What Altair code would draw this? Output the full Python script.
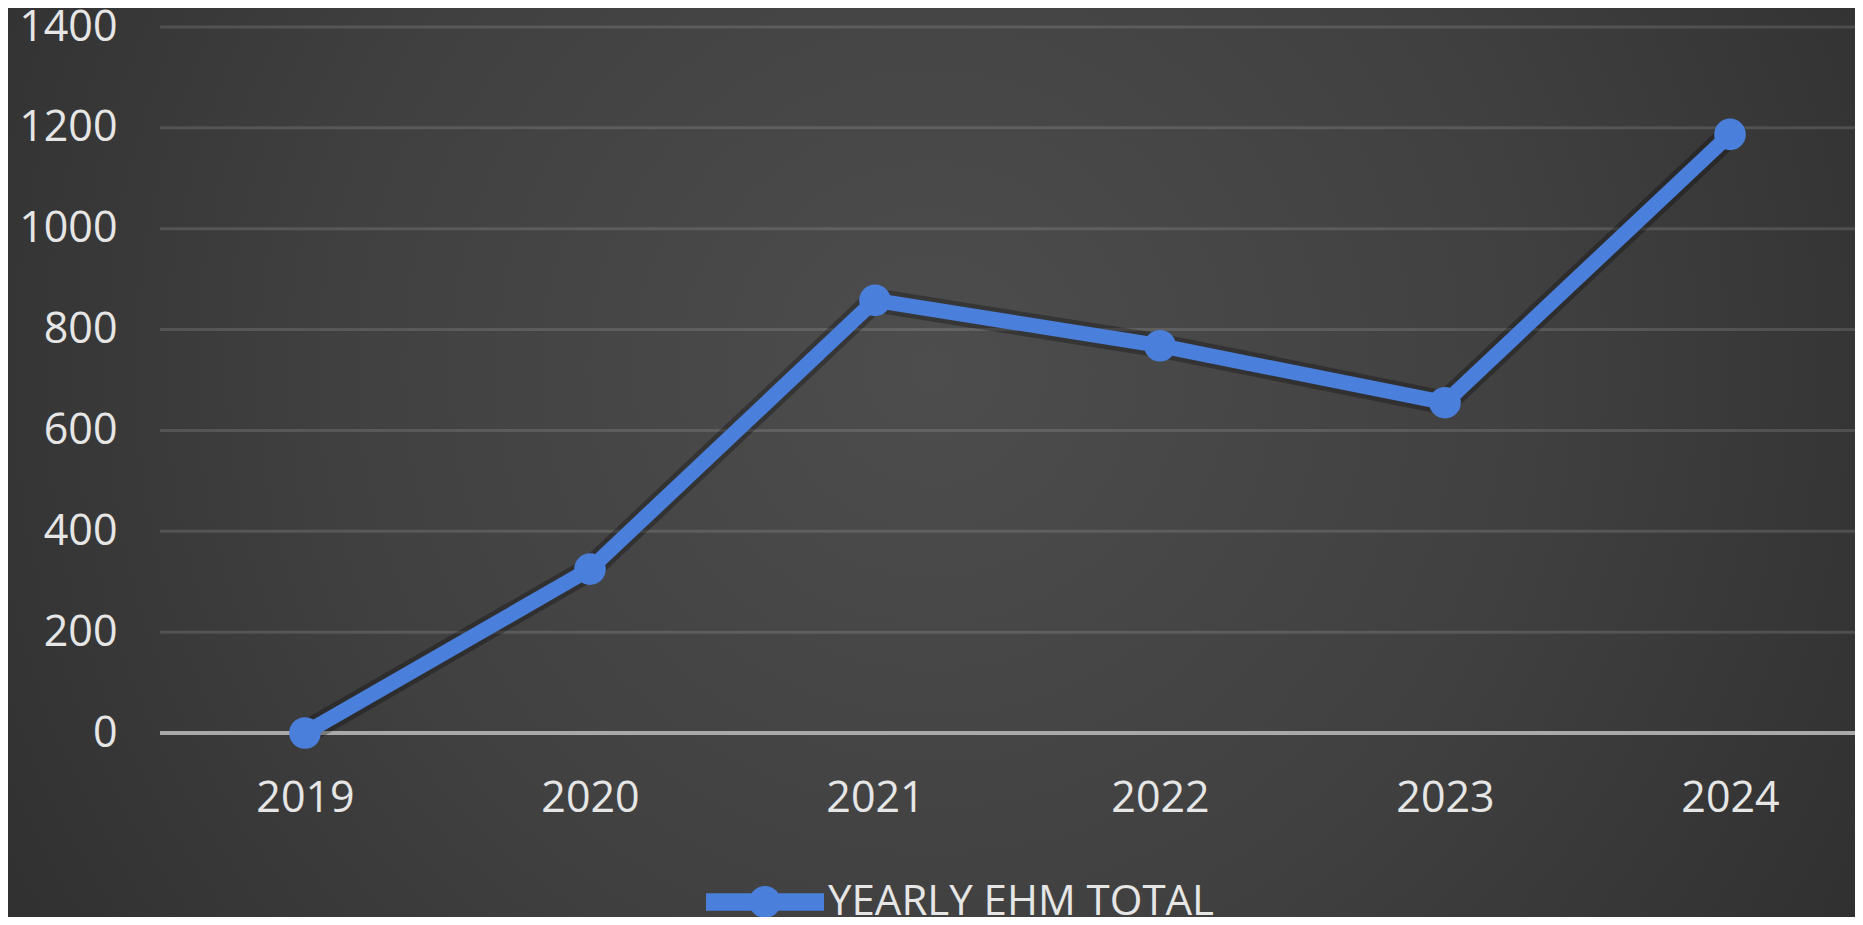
import altair as alt
import pandas as pd

years = ["2019", "2020", "2021", "2022", "2023", "2024"]
totals = [0, 325, 858, 768, 655, 1187]
series_name = "YEARLY EHM TOTAL"
y_ticks = [0, 200, 400, 600, 800, 1000, 1200, 1400]
grid_ticks = [200, 400, 600, 800, 1000, 1200, 1400]
zero_line = [0]

W, H = 1695, 706
PAD = {"left": 152, "top": 19, "right": 0, "bottom": 184}

df = pd.DataFrame({"year": years, "total": totals, "series": [series_name] * len(years)})
grid_df = pd.DataFrame({"v": grid_ticks})
zero_df = pd.DataFrame({"v": zero_line})
bg_df = pd.DataFrame({"k": [0]})

LINE_COLOR = "#4a7fdc"
FONT = "Open Sans"
TXT = "#e6e6e6"

x_enc = alt.X("year:N", sort=years,
              scale=alt.Scale(type="point", padding=0.4737, align=0.537),
              axis=alt.Axis(title=None, labelAngle=0, ticks=False, grid=False,
                            domain=False, zindex=1,
                            labelPadding=44, labelFont=FONT, labelFontSize=43,
                            labelColor=TXT))
y_scale = alt.Scale(domain=[0, 1400], nice=False)
y_enc = alt.Y("total:Q", scale=y_scale,
              axis=alt.Axis(title=None, values=y_ticks, format="d", ticks=False, grid=False,
                            domain=False, zindex=1, labelPadding=43, labelFont=FONT,
                            labelFontSize=43, labelColor=TXT, labelBaseline="middle"))

bg = alt.Chart(bg_df).mark_rect(
    fill={"gradient": "radial",
          "x1": 0.5, "y1": 0.45, "r1": 0.0,
          "x2": 0.5, "y2": 0.45, "r2": 0.72,
          "stops": [{"offset": 0.0, "color": "#4d4d4d"},
                    {"offset": 0.45, "color": "#404040"},
                    {"offset": 1.0, "color": "#282828"}]}
).encode(
    x=alt.value(-PAD["left"]), x2=alt.value(W + PAD["right"]),
    y=alt.value(-PAD["top"]), y2=alt.value(H + PAD["bottom"])
)

grid = alt.Chart(grid_df).mark_rule(color="#ffffff", strokeOpacity=0.13, strokeWidth=3).encode(
    y=alt.Y("v:Q", scale=y_scale),
    x=alt.value(0), x2=alt.value(W)
)

zero = alt.Chart(zero_df).mark_rule(color="#a9a9a9", strokeWidth=4).encode(
    y=alt.Y("v:Q", scale=y_scale),
    x=alt.value(0), x2=alt.value(W)
)

shadow = alt.Chart(df).mark_line(color="#000000", opacity=0.28, strokeWidth=24,
                                 strokeJoin="round", strokeCap="round").encode(
    x=x_enc, y=y_enc)

line = alt.Chart(df).mark_line(color=LINE_COLOR, strokeWidth=15,
                               strokeJoin="round").encode(x=x_enc, y=y_enc)

legend_path = ("M-1,-0.15L1,-0.15L1,0.15L-1,0.15Z "
               "M0.27,0A0.27,0.27,0,1,1,-0.27,0A0.27,0.27,0,1,1,0.27,0Z")

points = alt.Chart(df).mark_circle(size=1000, opacity=1).encode(
    x=x_enc, y=y_enc,
    color=alt.Color("series:N", scale=alt.Scale(range=[LINE_COLOR]),
                    legend=alt.Legend(title=None, orient="none", legendX=546, legendY=816,
                                      symbolType=legend_path, symbolSize=13924,
                                      symbolStrokeWidth=0, symbolOpacity=1,
                                      labelFont=FONT, labelFontSize=42, labelColor=TXT,
                                      labelOffset=4, labelLimit=0, padding=0))
)

chart = alt.layer(bg, grid, zero, shadow, line, points).properties(
    width=W, height=H, padding=PAD,
    autosize=alt.AutoSizeParams(type="none"),
    background="#2c2c2c"
).configure_view(stroke=None)

chart.save("out.html", embed_options={"renderer": "svg", "actions": False})
